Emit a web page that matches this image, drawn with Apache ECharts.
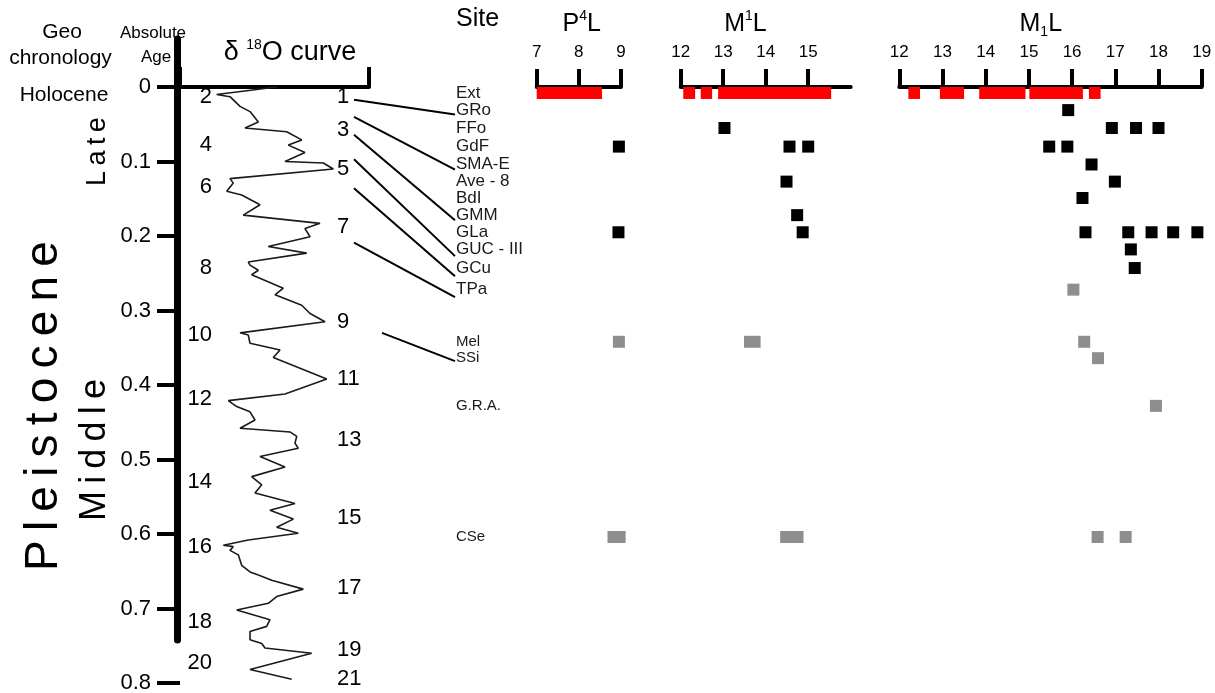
<!DOCTYPE html>
<html><head><meta charset="utf-8">
<script src="https://cdn.jsdelivr.net/npm/echarts@6/dist/echarts.min.js"></script>
<style>html,body{margin:0;padding:0;background:#fff}#c{width:1215px;height:693px}</style>
</head><body><div id="c"></div>
<script>
const FONT = '"Liberation Sans", Arial, Helvetica, sans-serif';

// ---------- DATA ----------
// Absolute age axis (Ma)
const ageMin = 0, ageMax = 0.8, ageStep = 0.1;

// δ18O curve (relative δ18O, inverted scale) vs age (Ma)
const curveD18O = [3.721,4.515,4.339,4.206,4.074,3.964,4.140,3.589,3.390,3.567,3.347,3.611,3.104,2.972,
  4.339,4.295,4.382,4.184,3.942,4.163,3.148,3.347,3.280,3.832,3.324,4.097,4.074,3.964,4.052,3.634,
  3.743,3.390,3.280,3.082,4.206,4.097,4.074,3.677,3.766,3.059,3.611,4.361,4.250,4.074,4.008,4.206,
  3.545,3.456,3.479,3.435,3.942,3.611,4.052,3.919,4.008,3.479,3.810,3.501,3.721,3.435,4.097,4.427,
  4.295,4.339,4.229,4.184,4.074,3.964,3.787,3.369,3.721,3.832,4.250,3.810,3.853,4.074,4.074,3.919,
  3.876,3.258,4.074,3.522];
const curveAge = [0.000,0.010,0.013,0.026,0.033,0.047,0.055,0.060,0.071,0.078,0.088,0.100,0.102,0.110,
  0.123,0.129,0.140,0.145,0.158,0.172,0.183,0.190,0.201,0.214,0.223,0.235,0.239,0.246,0.252,0.270,
  0.279,0.293,0.304,0.315,0.330,0.333,0.344,0.353,0.363,0.392,0.412,0.421,0.429,0.436,0.447,0.458,
  0.463,0.469,0.478,0.485,0.496,0.510,0.523,0.534,0.545,0.559,0.568,0.580,0.591,0.599,0.608,0.615,
  0.617,0.622,0.628,0.642,0.651,0.655,0.662,0.674,0.684,0.693,0.702,0.715,0.724,0.731,0.742,0.747,
  0.753,0.760,0.782,0.795];

// Marine isotope stages (labels) and their ages
const misEvenLabels = ['2','4','6','8','10','12','14','16','18','20'];
const misEvenAge = [0.013,0.078,0.134,0.243,0.333,0.419,0.530,0.617,0.718,0.773];
const misOddLabels = ['1','3','5','7','9','11','13','15','17','19','21'];
const misOddAge = [0.014,0.058,0.110,0.188,0.315,0.392,0.474,0.579,0.673,0.755,0.795];

// Sites and their ages
const sites = ['Ext','GRo','FFo','GdF','SMA-E','Ave - 8','BdI','GMM','GLa','GUC - III','GCu','TPa','Mel','SSi','G.R.A.','CSe'];
const siteAge = [0.008,0.031,0.055,0.080,0.104,0.127,0.149,0.172,0.195,0.218,0.243,0.272,0.342,0.364,0.428,0.604];

// Links MIS -> site
const linkMis = ['1','3','3','5','5','7','9'];
const linkSite = ['GRo','SMA-E','GMM','GUC - III','GCu','TPa','SSi'];
const linkStartAge = [0.017,0.040,0.064,0.097,0.136,0.209,0.330];
const linkEndAge = [0.037,0.111,0.179,0.227,0.254,0.282,0.368];

// P4L panel
const p4lRange = [7, 9];
const p4lExt = [[7.0, 8.55]];
const p4lBlack = [[8.95,'GdF'],[8.94,'GLa']];
const p4lGray = [[8.95,'Mel']];
const p4lGrayRange = [[8.68, 9.11,'CSe']];

// M1L (upper) panel
const m1uRange = [12, 16];
const m1uExt = [[12.06,12.34],[12.47,12.74],[12.88,15.54]];
const m1uBlack = [[13.03,'FFo'],[14.56,'GdF'],[15.0,'GdF'],[14.49,'Ave - 8'],[14.74,'GMM'],[14.87,'GLa']];
const m1uGrayRange = [[13.49,13.88,'Mel'],[14.34,14.89,'CSe']];

// M1L (lower) panel
const m1lRange = [12, 19];
const m1lExt = [[12.21,12.48],[12.94,13.50],[13.85,14.92],[15.01,16.25],[16.39,16.66]];
const m1lBlack = [[15.91,'GRo'],[16.92,'FFo'],[17.48,'FFo'],[18.0,'FFo'],[15.47,'GdF'],[15.89,'GdF'],
  [16.45,'SMA-E'],[16.99,'Ave - 8'],[16.24,'BdI'],[16.31,'GLa'],[17.30,'GLa'],[17.84,'GLa'],[18.34,'GLa'],
  [18.90,'GLa'],[17.36,'GUC - III'],[17.45,'GCu']];
const m1lGray = [[16.03,'TPa'],[16.28,'Mel'],[16.60,'SSi'],[17.94,'G.R.A.'],[16.59,'CSe'],[17.24,'CSe']];

// ---------- BUILD ----------
const ageOf = s => siteAge[sites.indexOf(s)];
const RED = '#ff0000', BLACK = '#000000', GRAY = '#8e8e8e';
const TOP = 87, H = 596;

function grid(left, width, top, height) {
  return {left, width, top: top === undefined ? TOP : top, height: height === undefined ? H : height, outerBoundsMode: 'none', containLabel: false};
}
function hiddenX(min, max) { return {type:'value', min, max, show:false}; }
function hiddenY(i) { return {type:'value', gridIndex:i, min:ageMin, max:ageMax, inverse:true, show:false}; }
function panelX(i, range, hideMax) {
  return {type:'value', gridIndex:i, position:'top', offset:6, min:range[0], max:range[1], interval:1,
    axisLine:{show:true, lineStyle:{color:BLACK, width:4}},
    axisTick:{show:true, inside:false, length:18, lineStyle:{color:BLACK, width:4}},
    splitLine:{show:false},
    axisLabel:{show:true, margin:20, fontSize:17, fontFamily:FONT, color:'#000', showMinLabel:true, showMaxLabel:!hideMax,
      formatter: v => (hideMax && v === range[1]) ? '' : String(v)}};
}
function rangeSeries(xi, data, color, h) {
  return {type:'custom', xAxisIndex:xi, yAxisIndex:xi, clip:false,
    encode:{x:[0,1], y:2},
    data: data,
    renderItem: function(params, api) {
      const a = api.coord([api.value(0), api.value(2)]);
      const b = api.coord([api.value(1), api.value(2)]);
      return {type:'rect', shape:{x:a[0], y:a[1]-h/2, width:b[0]-a[0], height:h}, style:{fill:color}};
    }};
}
function squareSeries(xi, data, color) {
  return {type:'scatter', xAxisIndex:xi, yAxisIndex:xi, symbol:'rect', symbolSize:12, clip:false,
    itemStyle:{color, opacity:1}, data: data.map(d => [d[0], ageOf(d[1])])};
}

const EVEN_X = 4.577, ODD_X = 2.923; // anchor columns for MIS numbers (δ18O units)

const series = [];
series.push({type:'line', xAxisIndex:0, yAxisIndex:0, symbol:'none', clip:false, smooth:false,
  lineStyle:{color:'#1a1a1a', width:1.6}, data: curveD18O.map((v,i)=>[v, curveAge[i]])});
series.push({type:'lines', coordinateSystem:'cartesian2d', xAxisIndex:2, yAxisIndex:2, polyline:false,
  lineStyle:{color:'#000', width:2, opacity:1}, silent:true,
  data: linkMis.map((m,i)=>({coords:[[m === '9' ? 42 : 14, linkStartAge[i]], [115, linkEndAge[i]]]}))});
series.push(rangeSeries(4, p4lExt.map(r=>[r[0], r[1], ageOf('Ext')]), RED, 12));
series.push(squareSeries(4, p4lBlack, BLACK));
series.push(squareSeries(4, p4lGray, GRAY));
series.push(rangeSeries(4, p4lGrayRange.map(r=>[r[0], r[1], ageOf(r[2])]), GRAY, 12));
series.push(rangeSeries(5, m1uExt.map(r=>[r[0], r[1], ageOf('Ext')]), RED, 12));
series.push(squareSeries(5, m1uBlack, BLACK));
series.push(rangeSeries(5, m1uGrayRange.map(r=>[r[0], r[1], ageOf(r[2])]), GRAY, 12));
series.push(rangeSeries(6, m1lExt.map(r=>[r[0], r[1], ageOf('Ext')]), RED, 12));
series.push(squareSeries(6, m1lBlack, BLACK));
series.push(squareSeries(6, m1lGray, GRAY));

function txt(x, y, text, size, extra, align) {
  const a = align || 'center';
  return Object.assign({type:'text', x, y, silent:true,
    style:{text, font: size + 'px ' + FONT, fill:'#000', textAlign:a, textVerticalAlign:'middle', align:a, verticalAlign:'middle'}}, extra || {});
}
function richTxt(x, y, text, rich) {
  return {type:'text', x, y, silent:true,
    style:{text, rich, fill:'#000', textAlign:'center', textVerticalAlign:'middle', align:'center', verticalAlign:'middle'}};
}
const sp = s => s.split('').join('\u2009');
const big = {font:'25px ' + FONT, fill:'#000', lineHeight:30, verticalAlign:'middle'};
const sup = {font:'14px ' + FONT, fill:'#000', lineHeight:30, verticalAlign:'top'};
const sub = {font:'14px ' + FONT, fill:'#000', lineHeight:30, verticalAlign:'bottom', padding:[12,0,0,0]};

const graphics = [
  txt(62, 32, 'Geo', 21),
  txt(60.5, 58, 'chronology', 21),
  txt(64, 95, 'Holocene', 21),
  txt(153, 33, 'Absolute', 17),
  txt(156, 57, 'Age', 17),
  txt(97.5, 151.5, sp('Late'), 27, {rotation: Math.PI/2}),
  txt(44, 406, sp('Pleistocene'), 46, {rotation: Math.PI/2}),
  txt(95, 450, sp('Middle'), 36, {rotation: Math.PI/2}),
  txt(477.5, 19, 'Site', 25),
  richTxt(290, 53, '{a|δ }{s|18}{a|O curve}', {a:Object.assign({}, big, {font:'27px ' + FONT}), s:sup}),
  richTxt(581.7, 24, '{a|P}{s|4}{a|L}', {a:big, s:sup}),
  richTxt(745.5, 24, '{a|M}{s|1}{a|L}', {a:big, s:sup}),
  richTxt(1040.8, 24, '{a|M}{s|1}{a|L}', {a:big, s:sub})
];

const option = {
  animation:false,
  backgroundColor:'#fff',
  grid:[
    grid(180, 189),            // 0 main δ18O
    grid(177, 2, 39, 601),     // 1 spine
    grid(340, 120),            // 2 links
    grid(455, 60),             // 3 site labels
    grid(536.7, 84.3),         // 4 P4L
    grid(680.7, 170),          // 5 M1L upper
    grid(899.3, 302.4)         // 6 M1L lower
  ],
  xAxis:[
    {type:'value', gridIndex:0, position:'top', offset:3, min:2.5, max:5.0, interval:2.5, inverse:true,
      axisLine:{show:true, lineStyle:{color:BLACK, width:4}},
      axisTick:{show:true, inside:false, length:20, lineStyle:{color:BLACK, width:4}},
      axisLabel:{show:false}, splitLine:{show:false}},
    Object.assign(hiddenX(0,1), {gridIndex:1}),
    Object.assign(hiddenX(0,120), {gridIndex:2}),
    Object.assign(hiddenX(0,1), {gridIndex:3}),
    panelX(4, p4lRange, false),
    panelX(5, m1uRange, true),
    panelX(6, m1lRange, false)
  ],
  yAxis:[
    {type:'value', gridIndex:0, min:ageMin, max:ageMax, interval:ageStep, inverse:true,
      axisLine:{show:false},
      axisTick:{show:true, inside:false, length:23, lineStyle:{color:BLACK, width:4}},
      splitLine:{show:false},
      axisLabel:{show:true, margin:29, fontSize:22, fontFamily:FONT, color:'#000', showMinLabel:true, showMaxLabel:true,
        formatter: v => String(+v.toFixed(1))}},
    {type:'value', gridIndex:1, min:0, max:1, inverse:true,
      axisLine:{show:true, lineStyle:{color:BLACK, width:7}}, axisTick:{show:false}, axisLabel:{show:false}, splitLine:{show:false}},
    hiddenY(2), hiddenY(3), hiddenY(4), hiddenY(5), hiddenY(6)
  ],
  series
};
const chart = echarts.init(document.getElementById('c'), null, {renderer:'canvas'});
chart.setOption(option);

// Text labels placed through the axes' scales
const labelEls = [];
misEvenAge.forEach((a, i) => {
  const p = chart.convertToPixel({gridIndex:0}, [EVEN_X, a]);
  labelEls.push(txt(p[0], p[1], misEvenLabels[i], 22, null, 'right'));
});
misOddAge.forEach((a, i) => {
  const p = chart.convertToPixel({gridIndex:0}, [ODD_X, a]);
  labelEls.push(txt(p[0], p[1], misOddLabels[i], 22, null, 'left'));
});
sites.forEach((s, i) => {
  const p = chart.convertToPixel({gridIndex:3}, [0, siteAge[i]]);
  const el = txt(p[0] + 1, p[1], s, i >= 12 ? 15 : 17, null, 'left');
  el.style.fill = '#1a1a1a';
  labelEls.push(el);
});
chart.setOption({graphic: graphics.concat(labelEls)});
</script>
</body></html>
